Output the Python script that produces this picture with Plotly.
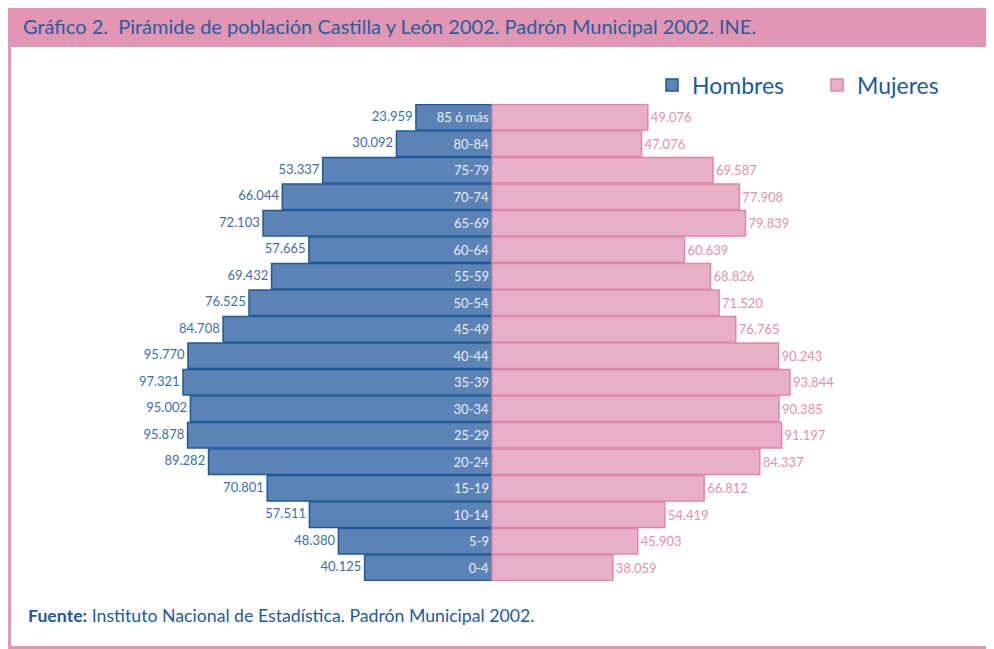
import plotly.graph_objects as go

# Pirámide de población Castilla y León 2002
grupos = ['85 ó más', '80-84', '75-79', '70-74', '65-69', '60-64', '55-59', '50-54', '45-49',
          '40-44', '35-39', '30-34', '25-29', '20-24', '15-19', '10-14', '5-9', '0-4']
hombres = [23959, 30092, 53337, 66044, 72103, 57665, 69432, 76525, 84708,
           95770, 97321, 95002, 95878, 89282, 70801, 57511, 48380, 40125]
mujeres = [49076, 47076, 69587, 77908, 79839, 60639, 68826, 71520, 76765,
           90243, 93844, 90385, 91197, 84337, 66812, 54419, 45903, 38059]


def fmt(v):
    return f"{v:,}".replace(",", ".")


AZUL = '#5b83b6'
AZUL_BORDE = '#1d5a98'
ROSA = '#e8b0c6'
ROSA_BORDE = '#e085aa'
ROSA_MARCO = '#e196b4'
TXT_AZUL = '#2a5c9c'

fig = go.Figure()

fig.add_trace(go.Bar(
    y=grupos, x=[-v for v in hombres], orientation='h', name='Hombres',
    marker=dict(color=AZUL, line=dict(color=AZUL_BORDE, width=1.5)),
    text=grupos, textposition='inside', insidetextanchor='start',
    textfont=dict(color='#e8eef7', size=13, family='Lato'),
    hoverinfo='skip'))
fig.add_trace(go.Bar(
    y=grupos, x=mujeres, orientation='h', name='Mujeres',
    marker=dict(color=ROSA, line=dict(color=ROSA_BORDE, width=1.5)),
    text=[fmt(v) for v in mujeres], textposition='outside', cliponaxis=False,
    textfont=dict(color='#e48fb2', size=13, family='Lato'),
    hoverinfo='skip'))

# etiquetas de valores de hombres
fig.add_trace(go.Scatter(
    y=grupos, x=[-v for v in hombres], mode='text', text=[fmt(v) + ' ' for v in hombres],
    textposition='middle left', textfont=dict(color='#3d6fa9', size=13, family='Lato'),
    showlegend=False, hoverinfo='skip'))

# la página html añade 8px de margen al cuerpo
OFF = 8
W, H = 994 - OFF, 649 - OFF
L, R, T, B = 12 - OFF, 22, 104 - OFF, 68
pw, ph = W - L - R, H - T - B


def px(x):
    return (x - OFF - L) / pw


def py(y):
    return (H - B - (y - OFF)) / ph


# marco
fig.add_shape(type='rect', xref='paper', yref='paper', x0=px(7), x1=px(1000), y0=py(660), y1=py(4),
              fillcolor=ROSA_MARCO, line_width=0, layer='below')
fig.add_shape(type='rect', xref='paper', yref='paper', x0=px(11), x1=px(992), y0=py(646), y1=py(47),
              fillcolor='white', line_width=0, layer='below')

fig.add_annotation(xref='paper', yref='paper', x=px(21), y=py(26), xanchor='left', yanchor='middle',
                   text='Gráfico 2.  Pirámide de población Castilla y León 2002. Padrón Municipal 2002. INE.',
                   showarrow=False, font=dict(size=20, color=TXT_AZUL, family='Lato'))
fig.add_annotation(xref='paper', yref='paper', x=px(26), y=py(615), xanchor='left', yanchor='middle',
                   text='<b>Fuente:</b> Instituto Nacional de Estadística. Padrón Municipal 2002.',
                   showarrow=False, font=dict(size=17.7, color='#1f5a98', family='Lato'))

fig.update_layout(
    width=W, height=H,
    margin=dict(l=L, r=R, t=T, b=B),
    barmode='overlay', bargap=0.04,
    paper_bgcolor='white', plot_bgcolor='rgba(0,0,0,0)',
    xaxis=dict(range=[-151181, 151181], visible=False, fixedrange=True),
    yaxis=dict(range=[17.5, -0.5], visible=False, fixedrange=True),
    legend=dict(orientation='h', x=px(652), y=py(85), xanchor='left', yanchor='middle',
                font=dict(size=23, color='#1f5a98', family='Lato'), itemwidth=30,
                entrywidth=120, bgcolor='rgba(0,0,0,0)'),
    showlegend=True,
)

fig.write_html("out.html")
